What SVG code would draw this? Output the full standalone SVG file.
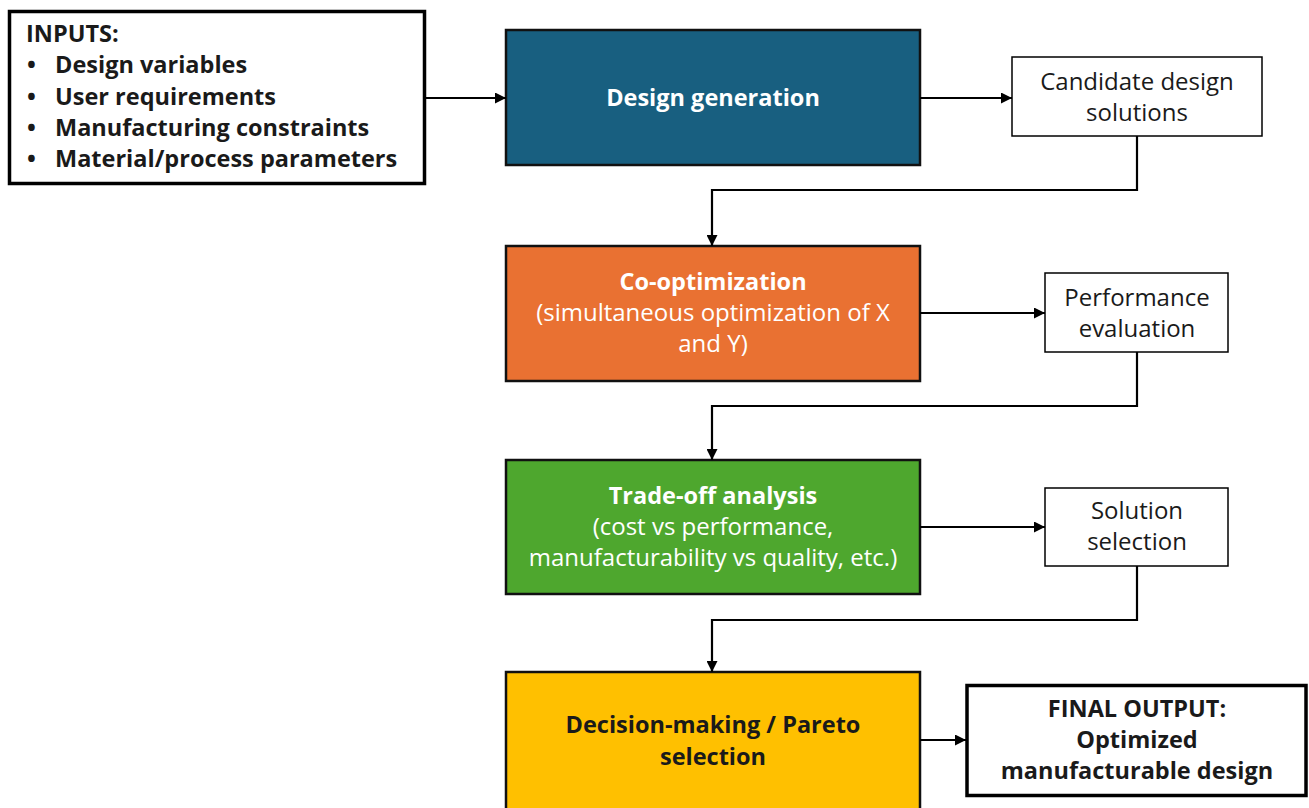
<svg xmlns="http://www.w3.org/2000/svg" width="1309" height="808" viewBox="0 0 1309 808">
<style>
text{font-family:"Open Sans","Noto Sans","Liberation Sans",sans-serif;font-size:24px;}
.b{font-weight:bold;font-size:23.5px;}
.c{text-anchor:middle;}
.w{fill:#ffffff;}
.k{fill:#1a1a1a;}
.thick{fill:#ffffff;stroke:#000;stroke-width:3.5;}
.thin{fill:#ffffff;stroke:#000;stroke-width:1.5;}
.main{stroke:#111;stroke-width:2.5;}
.conn{fill:none;stroke:#000;stroke-width:2.2;marker-end:url(#ah);}
</style>
<defs>
<marker id="ah" viewBox="0 0 10 10" refX="10" refY="5" markerWidth="5" markerHeight="5" orient="auto" markerUnits="strokeWidth">
<path d="M0,0 L10,5 L0,10 z" fill="#000"/>
</marker>
</defs>
<g id="inputs">
<rect class="thick" x="9.5" y="11.5" width="415" height="172"/>
<text class="b k" x="26" y="42">INPUTS:</text>
<text class="b k" x="27" y="73">•</text><text class="b k" x="55" y="73">Design variables</text>
<text class="b k" x="27" y="105">•</text><text class="b k" x="55" y="105">User requirements</text>
<text class="b k" x="27" y="136">•</text><text class="b k" x="55" y="136">Manufacturing constraints</text>
<text class="b k" x="27" y="167">•</text><text class="b k" x="55" y="167">Material/process parameters</text>
</g>
<g id="design-generation">
<rect class="main" x="506" y="30" width="414" height="135" fill="#185f80"/>
<text class="b c w" x="713" y="106">Design generation</text>
</g>
<g id="candidate">
<rect class="thin" x="1012" y="57" width="250" height="79"/>
<text class="c k" x="1137" y="90">Candidate design</text>
<text class="c k" x="1137" y="121">solutions</text>
</g>
<g id="co-optimization">
<rect class="main" x="506" y="246" width="414" height="135" fill="#e97132"/>
<text class="b c w" x="713" y="290">Co-optimization</text>
<text class="c w" x="713" y="321">(simultaneous optimization of X</text>
<text class="c w" x="713" y="352">and Y)</text>
</g>
<g id="performance">
<rect class="thin" x="1045" y="273" width="183" height="79"/>
<text class="c k" x="1137" y="306">Performance</text>
<text class="c k" x="1137" y="337">evaluation</text>
</g>
<g id="trade-off">
<rect class="main" x="506" y="460" width="414" height="134" fill="#4ea72e"/>
<text class="b c w" x="713" y="504">Trade-off analysis</text>
<text class="c w" x="713" y="535">(cost vs performance,</text>
<text class="c w" x="713" y="566">manufacturability vs quality, etc.)</text>
</g>
<g id="solution">
<rect class="thin" x="1045" y="488" width="183" height="78"/>
<text class="c k" x="1137" y="519">Solution</text>
<text class="c k" x="1137" y="550">selection</text>
</g>
<g id="decision">
<rect class="main" x="506" y="672" width="414" height="140" fill="#ffc000"/>
<text class="b c k" x="713" y="733">Decision-making / Pareto</text>
<text class="b c k" x="713" y="765">selection</text>
</g>
<g id="final-output">
<rect class="thick" x="967" y="685.5" width="339" height="110"/>
<text class="b c k" x="1137" y="717">FINAL OUTPUT:</text>
<text class="b c k" x="1137" y="748">Optimized</text>
<text class="b c k" x="1137" y="779">manufacturable design</text>
</g>
<g id="connectors">
<path class="conn" d="M425,98 H506"/>
<path class="conn" d="M920,98 H1012"/>
<path class="conn" d="M1137,136 V190 H712 V246"/>
<path class="conn" d="M920,313 H1045"/>
<path class="conn" d="M1137,352 V406 H712 V460"/>
<path class="conn" d="M920,527 H1045"/>
<path class="conn" d="M1137,566 V620 H712 V672"/>
<path class="conn" d="M920,740 H966"/>
</g>
</svg>
